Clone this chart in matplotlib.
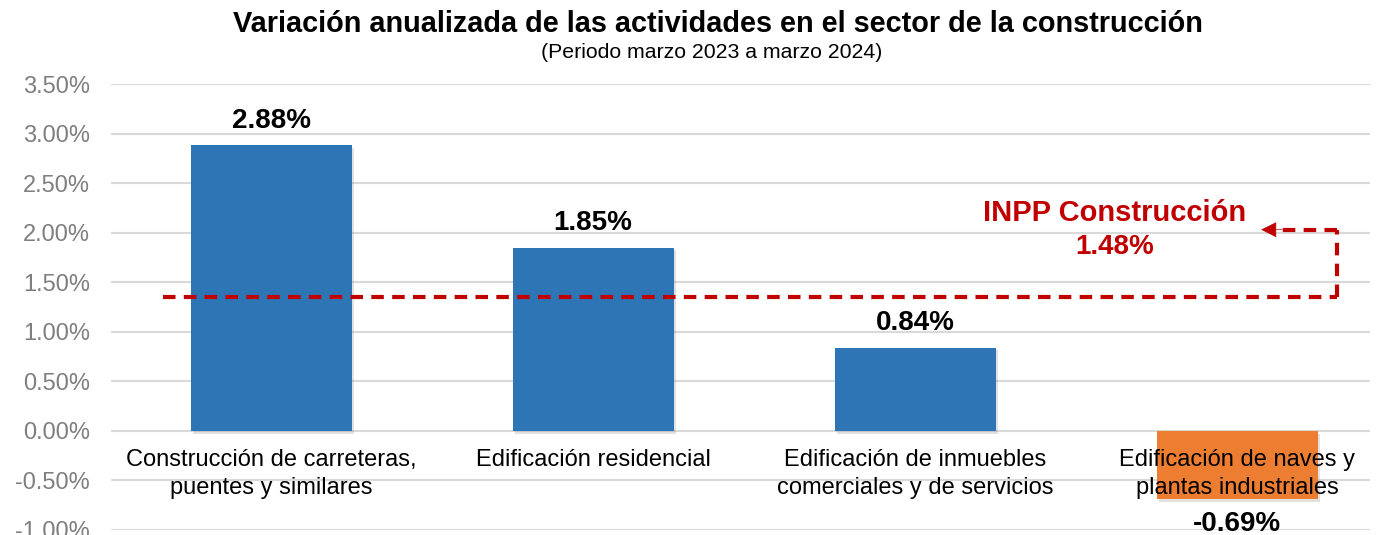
import numpy as np
import matplotlib.pyplot as plt
import matplotlib.patheffects as pe

plt.rcParams['font.family'] = ['Liberation Sans', 'DejaVu Sans']

# Data
categories = ["Construcción de carreteras,\npuentes y similares",
              "Edificación residencial",
              "Edificación de inmuebles\ncomerciales y de servicios",
              "Edificación de naves y\nplantas industriales"]
values = [2.88, 1.85, 0.84, -0.69]
value_labels = ["2.88%", "1.85%", "0.84%", "-0.69%"]
inpp_value = 1.48
inpp_line = 1.35   # level where the dashed reference line is drawn
yticks = np.arange(-1.0, 3.51, 0.5)

blue = "#2E75B6"
orange = "#ED7D31"
red = "#C00000"

fig = plt.figure(figsize=(13.86, 5.35), dpi=100)
ax = fig.add_axes([111 / 1386, 5 / 535, (1370 - 111) / 1386, (530 - 84) / 535])

x = np.arange(len(categories))
colors = [blue if v >= 0 else orange for v in values]
bars = ax.bar(x, values, width=0.5, color=colors, zorder=3)
for b in bars:
    b.set_path_effects([pe.SimplePatchShadow(offset=(2, -2), shadow_rgbFace='#888888', alpha=0.25),
                        pe.Normal()])

ax.set_xlim(-0.497, 3.413)
ax.set_ylim(-1.0, 3.5)
ax.set_yticks(yticks)
ax.set_yticklabels([f"{t:.2f}%" for t in yticks], fontsize=17, color="#7F7F7F")
ax.set_xticks([])
ax.tick_params(axis='y', length=0, pad=15)
ax.grid(axis='y', color="#D9D9D9", lw=1.5, zorder=0)
for s in ax.spines.values():
    s.set_visible(False)

# category labels inside plot
for xi, c in zip(x, categories):
    ax.text(xi, -0.18, c, ha='center', va='top', fontsize=17, color='black',
            linespacing=1.38, zorder=5)

# value labels
for xi, v, lab in zip(x, values, value_labels):
    if v >= 0:
        ax.text(xi, v + 0.12, lab, ha='center', va='bottom', fontsize=20,
                fontweight='bold', zorder=5)
    else:
        ax.text(xi, v - 0.12, lab, ha='center', va='top', fontsize=20,
                fontweight='bold', zorder=5)

# INPP reference line
dash = dict(color=red, lw=3, ls=(0, (3, 2)), zorder=4)
ax.plot([-0.335, 3.31], [inpp_line, inpp_line], **dash)
ax.plot([3.31, 3.31], [inpp_line, 2.03], **dash)
ax.plot([3.31, 3.13], [2.03, 2.03], **dash)
ax.annotate("", xy=(3.075, 2.03), xytext=(3.14, 2.03),
            arrowprops=dict(arrowstyle="-|>,head_length=1.0,head_width=0.5",
                            color=red, lw=0.5, shrinkA=0, shrinkB=0), zorder=4)
ax.text(2.62, 2.2, "INPP Construcción", ha='center', va='center', fontsize=21,
        fontweight='bold', color=red)
ax.text(2.62, 1.86, f"{inpp_value:.2f}%", ha='center', va='center', fontsize=20,
        fontweight='bold', color=red)

fig.text(718 / 1386, 1 - 24 / 535, "Variación anualizada de las actividades en el sector de la construcción",
         ha='center', va='center', fontsize=20.8, fontweight='bold')
fig.text(712 / 1386, 1 - 53 / 535, "(Periodo marzo 2023 a marzo 2024)",
         ha='center', va='center', fontsize=15.3)

fig.savefig("out.png", dpi=100)
